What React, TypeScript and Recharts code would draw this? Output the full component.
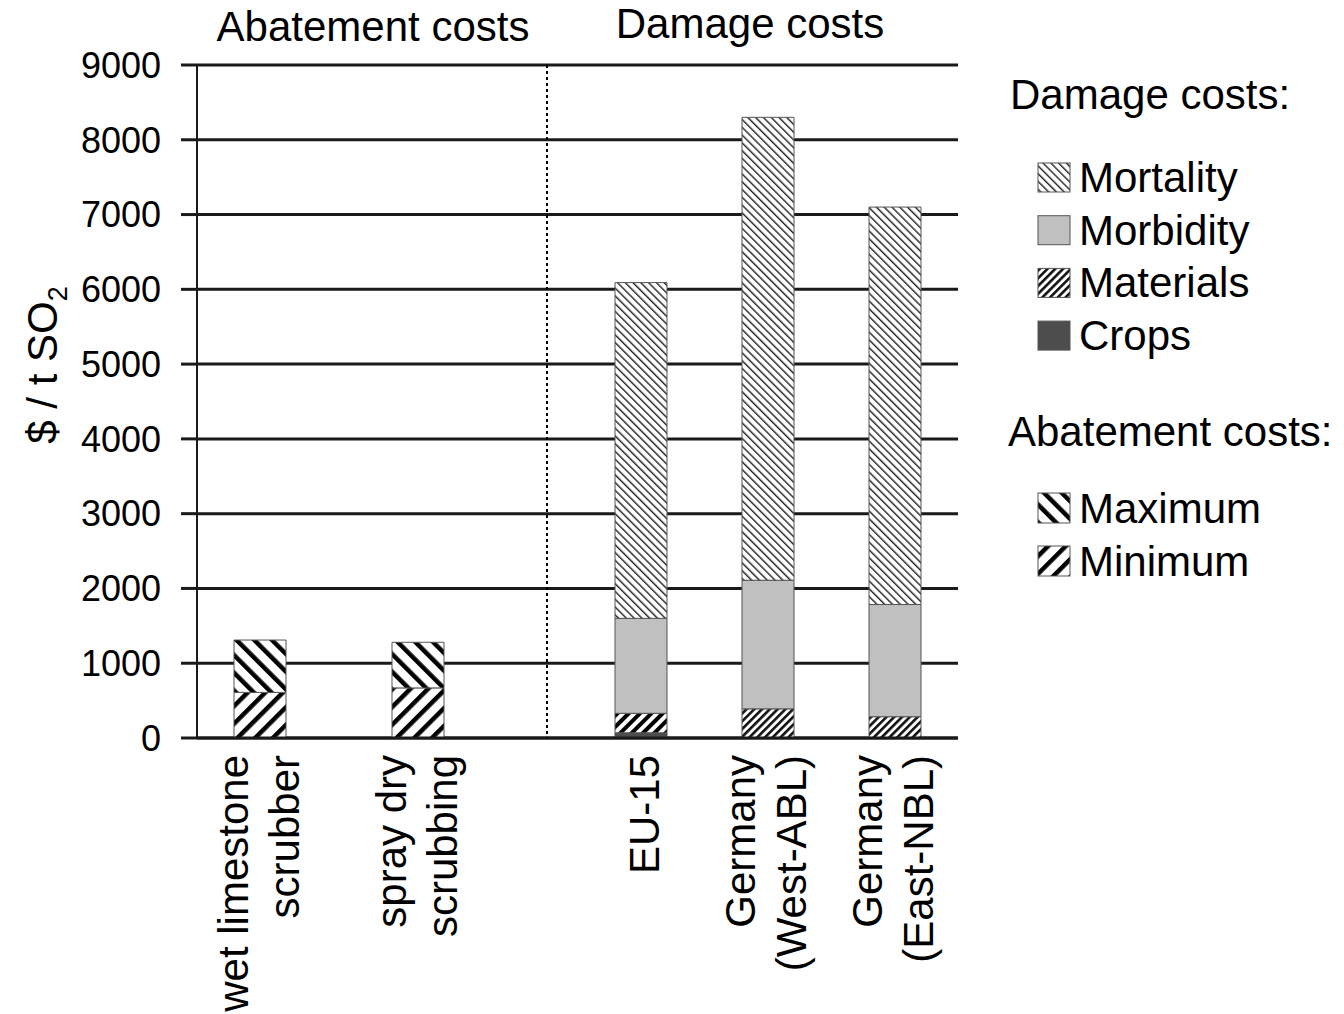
import React from "react";
import { BarChart, Bar, XAxis, YAxis, CartesianGrid, Cell } from "recharts";

const FONT = '"Liberation Sans", Arial, Helvetica, sans-serif';

// y axis ($ / t SO2)
const yTicks = [0, 1000, 2000, 3000, 4000, 5000, 6000, 7000, 8000, 9000];

// abatement costs
const abatementLabels = ["wet limestone\nscrubber", "spray dry\nscrubbing"];
const abatementMin = [610, 670];
const abatementMax = [1310, 1280];

// damage costs, stacked bottom to top
const damageLabels = ["EU-15", "Germany\n(West-ABL)", "Germany\n(East-NBL)"];
const crops = [70, 0, 0];
const materials = [260, 390, 285];
const morbidity = [1270, 1720, 1500];
const mortality = [4490, 6190, 5315];

const damageLegend = ["Mortality", "Morbidity", "Materials", "Crops"];
const abatementLegend = ["Maximum", "Minimum"];

const abatementData = abatementLabels.map((name, i) => ({
  name,
  min: abatementMin[i],
  maxExtra: abatementMax[i] - abatementMin[i],
}));

const damageData = damageLabels.map((name, i) => ({
  name,
  crops: crops[i],
  materials: materials[i],
  morbidity: morbidity[i],
  mortality: mortality[i],
}));

const fills: Record<string, string> = {
  Mortality: "url(#pMort)",
  Morbidity: "#c0c0c0",
  Materials: "url(#pMat)",
  Crops: "#4d4d4d",
  Maximum: "url(#pMax)",
  Minimum: "url(#pMin)",
};

const GRID = "#1a1a1a";
const BAR_STROKE = "#555";
const TXT = 42;

// rotated, possibly two-line category label
const CategoryTick = (props: any) => {
  const { x, y, payload } = props;
  const lines = String(payload.value).split("\n");
  const lh = 51;
  const shift = lines.length === 1 ? 18 : 13;
  return (
    <g>
      {lines.map((line, i) => {
        const bx = x + shift + (i - (lines.length - 1) / 2) * lh;
        return (
          <text
            key={i}
            x={bx}
            y={y}
            transform={`rotate(-90 ${bx} ${y})`}
            textAnchor="end"
            fontSize={TXT}
            fill="#000"
          >
            {line}
          </text>
        );
      })}
    </g>
  );
};

const NoTick = () => <g />;

const Patterns = () => (
  <defs>
    <pattern id="pMort" width="5.5" height="5.5" patternUnits="userSpaceOnUse" patternTransform="rotate(-45)">
      <rect width="5.5" height="5.5" fill="#fff" />
      <rect width="1.4" height="5.5" fill="#222" />
    </pattern>
    <pattern id="pMat" width="5.5" height="5.5" patternUnits="userSpaceOnUse" patternTransform="rotate(45)">
      <rect width="5.5" height="5.5" fill="#fff" />
      <rect width="2.6" height="5.5" fill="#111" />
    </pattern>
    <pattern id="pMatBold" width="8" height="8" patternUnits="userSpaceOnUse" patternTransform="rotate(45)">
      <rect width="8" height="8" fill="#fff" />
      <rect width="4" height="8" fill="#000" />
    </pattern>
    <pattern id="pMax" width="12.5" height="12.5" patternUnits="userSpaceOnUse" patternTransform="rotate(-45)">
      <rect width="12.5" height="12.5" fill="#fff" />
      <rect width="4.5" height="12.5" fill="#000" />
    </pattern>
    <pattern id="pMin" width="12.5" height="12.5" patternUnits="userSpaceOnUse" patternTransform="rotate(45)">
      <rect width="12.5" height="12.5" fill="#fff" />
      <rect width="4.5" height="12.5" fill="#000" />
    </pattern>
  </defs>
);

export default function App() {
  return (
    <div
      style={{
        position: "absolute",
        left: 0,
        top: 0,
        width: 1344,
        height: 1014,
        background: "#fff",
        fontFamily: FONT,
      }}
    >
      {/* titles, y label, legend, pattern defs */}
      <svg width={1344} height={1014} style={{ position: "absolute", left: 0, top: 0 }}>
        <Patterns />
        <text x={373} y={41} textAnchor="middle" fontSize={TXT} fill="#000">
          Abatement costs
        </text>
        <text x={750} y={38} textAnchor="middle" fontSize={TXT} fill="#000">
          Damage costs
        </text>
        <text x={57} y={365} transform="rotate(-90 57 365)" textAnchor="middle" fontSize={TXT} fill="#000">
          $ / t SO<tspan fontSize={27} dy={10}>2</tspan>
        </text>

        <text x={1010} y={109} fontSize={TXT} fill="#000">
          Damage costs:
        </text>
        {damageLegend.map((name, i) => {
          const base = 192 + i * 52.7;
          return (
            <g key={name}>
              <rect x={1038} y={base - 29} width={32} height={29} fill={fills[name]} stroke={BAR_STROKE} strokeWidth={1} />
              <text x={1079} y={base} fontSize={TXT} fill="#000">
                {name}
              </text>
            </g>
          );
        })}

        <text x={1008} y={446} fontSize={TXT} fill="#000">
          Abatement costs:
        </text>
        {abatementLegend.map((name, i) => {
          const base = 523 + i * 53;
          return (
            <g key={name}>
              <rect x={1038} y={base - 30} width={32} height={30} fill={fills[name]} stroke={BAR_STROKE} strokeWidth={1} />
              <text x={1079} y={base} fontSize={TXT} fill="#000">
                {name}
              </text>
            </g>
          );
        })}
      </svg>

      {/* abatement costs */}
      <div style={{ position: "absolute", left: 0, top: 0 }}>
        <BarChart width={547} height={1014} data={abatementData} margin={{ top: 65, right: 0, bottom: 0, left: 0 }}>
          <CartesianGrid vertical={false} stroke={GRID} strokeWidth={3} />
          <XAxis
            dataKey="name"
            height={276}
            padding={{ left: -16, right: 50 }}
            interval={0}
            tickLine={false}
            tickSize={0}
            tickMargin={17}
            axisLine={{ stroke: GRID, strokeWidth: 3 }}
            tick={<CategoryTick />}
          />
          <YAxis
            width={197}
            domain={[0, 9000]}
            ticks={yTicks}
            interval={0}
            tickSize={16}
            tickMargin={20}
            tickLine={{ stroke: GRID, strokeWidth: 3 }}
            axisLine={{ stroke: GRID, strokeWidth: 2 }}
            tick={{ fontSize: 36, fill: "#000" }}
          />
          <Bar dataKey="min" stackId="a" fill={fills.Minimum} stroke={BAR_STROKE} strokeWidth={1} barSize={52} isAnimationActive={false} />
          <Bar dataKey="maxExtra" stackId="a" fill={fills.Maximum} stroke={BAR_STROKE} strokeWidth={1} barSize={52} isAnimationActive={false} />
        </BarChart>
      </div>

      {/* damage costs */}
      <div style={{ position: "absolute", left: 536, top: 0 }}>
        <BarChart width={422} height={1014} data={damageData} margin={{ top: 65, right: 0, bottom: 0, left: 10 }}>
          <CartesianGrid vertical={false} stroke={GRID} strokeWidth={3} />
          <XAxis
            dataKey="name"
            height={276}
            padding={{ left: 30, right: 0 }}
            interval={0}
            tickLine={false}
            tickSize={0}
            tickMargin={17}
            axisLine={{ stroke: GRID, strokeWidth: 3 }}
            tick={<CategoryTick />}
          />
          <YAxis
            width={1}
            domain={[0, 9000]}
            ticks={yTicks}
            interval={0}
            tick={<NoTick />}
            tickLine={false}
            axisLine={{ stroke: "#000", strokeWidth: 2, strokeDasharray: "3 3" }}
          />
          <Bar dataKey="crops" stackId="d" fill={fills.Crops} stroke={BAR_STROKE} strokeWidth={1} barSize={52} isAnimationActive={false} />
          <Bar dataKey="materials" stackId="d" fill={fills.Materials} stroke={BAR_STROKE} strokeWidth={1} barSize={52} isAnimationActive={false}>
            {damageData.map((d, i) => (
              <Cell key={d.name} fill={i === 0 ? "url(#pMatBold)" : fills.Materials} />
            ))}
          </Bar>
          <Bar dataKey="morbidity" stackId="d" fill={fills.Morbidity} stroke={BAR_STROKE} strokeWidth={1} barSize={52} isAnimationActive={false} />
          <Bar dataKey="mortality" stackId="d" fill={fills.Mortality} stroke={BAR_STROKE} strokeWidth={1} barSize={52} isAnimationActive={false} />
        </BarChart>
      </div>
    </div>
  );
}
